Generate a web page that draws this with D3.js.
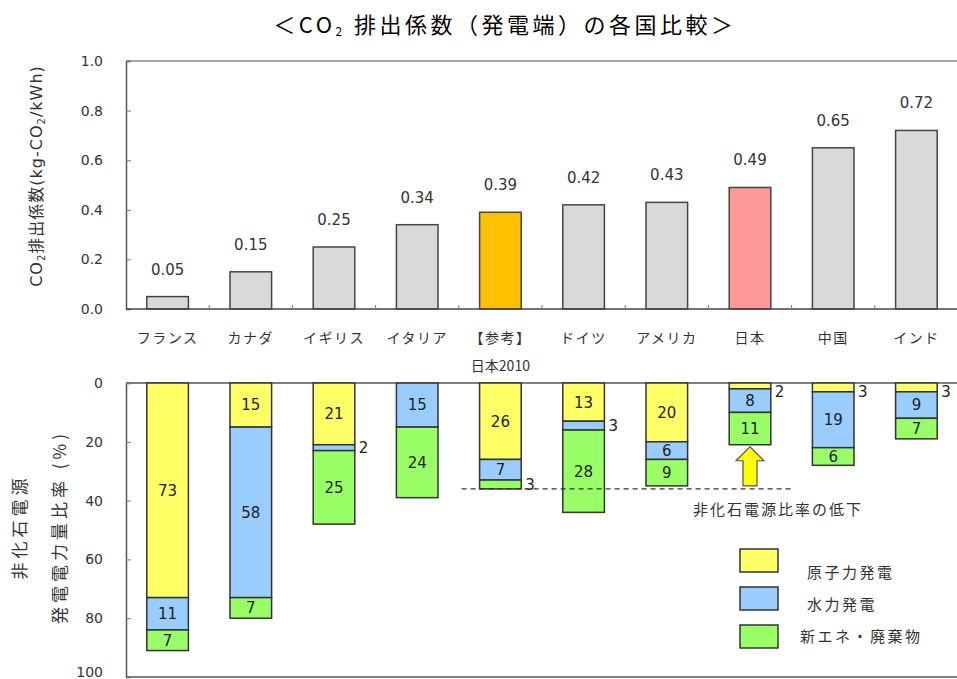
<!DOCTYPE html>
<html>
<head>
<meta charset="utf-8">
<script src="https://cdn.jsdelivr.net/npm/d3@7"></script>
<style>
  body { margin: 0; background: #fff; }
  svg { display: block; }
  text { fill: #333; }
</style>
</head>
<body>
<svg id="chart" width="957" height="679"></svg>
<script>
// data
const countries = ["フランス", "カナダ", "イギリス", "イタリア", "【参考】", "ドイツ", "アメリカ", "日本", "中国", "インド"];
const co2 = [0.05, 0.15, 0.25, 0.34, 0.39, 0.42, 0.43, 0.49, 0.65, 0.72];
const nuclear = [73, 15, 21, 0, 26, 13, 20, 2, 3, 3];
const hydro = [11, 58, 2, 15, 7, 3, 6, 8, 19, 9];
const renew = [7, 7, 25, 24, 3, 28, 9, 11, 6, 7];
const seriesNames = ["原子力発電", "水力発電", "新エネ・廃棄物"];
const seriesColors = ["#ffff66", "#99ccff", "#99ff66"];
const topTicks = [0, 0.2, 0.4, 0.6, 0.8, 1.0];
const bottomTicks = [0, 20, 40, 60, 80, 100];

const svg = d3.select("#chart");
const left = 126, right = 958;

let x = d3.scaleBand()
  .domain(countries)
  .range([left, right])
  .paddingInner(0.5)
  .paddingOuter(0.25);

let yTop = d3.scaleLinear().domain([0, 1]).range([309, 61]);
let yBot = d3.scaleLinear().domain([0, 100]).range([383, 677]);

// title
let title = svg.append("text")
  .attr("x", 505).attr("y", 33)
  .attr("text-anchor", "middle")
  .style("font-family", "'Noto Sans CJK JP'")
  .style("font-size", "22px")
  .style("letter-spacing", "3.5px")
  .style("fill", "#000");
title.append("tspan").text("＜CO");
title.append("tspan").text("2").style("font-size", "12px").attr("dy", 3);
title.append("tspan").text(" 排出係数（発電端）の各国比較＞").attr("dy", -3);

/* ---------- top chart ---------- */
let topG = svg.append("g");

topG.append("line")
  .attr("x1", left).attr("x2", right)
  .attr("y1", yTop(1)).attr("y2", yTop(1))
  .attr("stroke", "#888").attr("stroke-width", 1.5);

let yAxisTop = d3.axisLeft(yTop)
  .tickValues(topTicks)
  .tickFormat(d3.format(".1f"))
  .tickSize(-5)
  .tickPadding(23);

topG.append("g")
  .attr("transform", `translate(${left},0)`)
  .call(yAxisTop)
  .call(g => g.select(".domain").attr("stroke", "#555").attr("stroke-width", 1.5))
  .call(g => g.selectAll(".tick line").attr("stroke", "#777"))
  .call(g => g.selectAll(".tick text")
    .style("font-family", "'DejaVu Sans'").style("font-size", "14px").style("fill", "#333"));

let barColor = (d, i) => i == 4 ? "#ffc000" : (i == 7 ? "#ff9999" : "#d9d9d9");

topG.selectAll("rect.co2")
  .data(co2)
  .join("rect")
  .attr("class", "co2")
  .attr("x", (d, i) => x(countries[i]))
  .attr("width", x.bandwidth())
  .attr("y", d => yTop(d))
  .attr("height", d => yTop(0) - yTop(d))
  .attr("fill", barColor)
  .attr("stroke", "#444")
  .attr("stroke-width", 1.5);

topG.selectAll("text.co2")
  .data(co2)
  .join("text")
  .attr("class", "co2")
  .attr("x", (d, i) => x(countries[i]) + x.bandwidth() / 2)
  .attr("y", d => yTop(d) - 22)
  .attr("text-anchor", "middle")
  .style("font-family", "'DejaVu Sans'")
  .style("font-size", "15px")
  .text(d => d.toFixed(2));

// x axis, small ticks between bars pointing up
let xEdges = d3.range(1, countries.length).map(i => left + i * x.step());
topG.append("line")
  .attr("x1", left).attr("x2", right)
  .attr("y1", yTop(0)).attr("y2", yTop(0))
  .attr("stroke", "#444").attr("stroke-width", 1.5);
topG.selectAll("line.xt")
  .data(xEdges)
  .join("line")
  .attr("class", "xt")
  .attr("x1", d => d).attr("x2", d => d)
  .attr("y1", yTop(0)).attr("y2", yTop(0) - 4)
  .attr("stroke", "#777");

topG.selectAll("text.cat")
  .data(countries)
  .join("text")
  .attr("class", "cat")
  .attr("x", d => x(d) + x.bandwidth() / 2)
  .attr("y", 343)
  .attr("text-anchor", "middle")
  .style("font-family", "'Noto Sans CJK JP'")
  .style("font-size", "14px")
  .style("letter-spacing", "1.5px")
  .text(d => d);

svg.append("text")
  .attr("x", x("【参考】") + x.bandwidth() / 2)
  .attr("y", 371)
  .attr("text-anchor", "middle")
  .style("font-family", "'Noto Sans CJK JP'")
  .style("font-size", "14px")
  .text("日本2010");

let yl = svg.append("text")
  .attr("transform", "translate(42,176) rotate(-90)")
  .attr("text-anchor", "middle")
  .style("font-family", "'DejaVu Sans', 'Noto Sans CJK JP'")
  .style("font-size", "16px")
  .style("letter-spacing", "1px");
yl.append("tspan").text("CO");
yl.append("tspan").text("2").style("font-size", "10px").attr("dy", 3);
yl.append("tspan").text("排出係数(kg-CO").attr("dy", -3);
yl.append("tspan").text("2").style("font-size", "10px").attr("dy", 3);
yl.append("tspan").text("/kWh)").attr("dy", -3);

/* ---------- bottom chart ---------- */
let bot = svg.append("g");

let rows = countries.map((c, i) => ({ country: c, n: nuclear[i], h: hydro[i], r: renew[i] }));
let stack = d3.stack().keys(["n", "h", "r"])(rows);

bot.append("line")
  .attr("x1", left).attr("x2", right)
  .attr("y1", yBot(0)).attr("y2", yBot(0))
  .attr("stroke", "#555").attr("stroke-width", 1.5);
bot.append("line")
  .attr("x1", left).attr("x2", right)
  .attr("y1", yBot(100)).attr("y2", yBot(100))
  .attr("stroke", "#555").attr("stroke-width", 1.5);

let yAxisBot = d3.axisLeft(yBot)
  .tickValues(bottomTicks)
  .tickSize(-5)
  .tickPadding(23);

bot.append("g")
  .attr("transform", `translate(${left},0)`)
  .call(yAxisBot)
  .call(g => g.select(".domain").attr("stroke", "#555").attr("stroke-width", 1.5))
  .call(g => g.selectAll(".tick line").attr("stroke", "#777"))
  .call(g => g.selectAll(".tick text")
    .style("font-family", "'DejaVu Sans'").style("font-size", "14px").style("fill", "#333"))
  .call(g => g.selectAll(".tick text").filter(d => d == 100).attr("dy", "-0.05em"));

let layers = bot.selectAll("g.layer")
  .data(stack)
  .join("g")
  .attr("class", "layer")
  .attr("fill", (d, i) => seriesColors[i]);

layers.selectAll("rect")
  .data(d => d.filter(s => s[1] - s[0] > 0))
  .join("rect")
  .attr("x", d => x(d.data.country))
  .attr("width", x.bandwidth())
  .attr("y", d => yBot(d[0]))
  .attr("height", d => yBot(d[1]) - yBot(d[0]))
  .attr("stroke", "#333")
  .attr("stroke-width", 1.5);

layers.selectAll("text")
  .data(d => d.filter(s => s[1] - s[0] > 0))
  .join("text")
  .attr("x", d => (d[1] - d[0] < 5) ? x(d.data.country) + x.bandwidth() + 4 : x(d.data.country) + x.bandwidth() / 2)
  .attr("y", d => Math.max(yBot((d[0] + d[1]) / 2), yBot(3)))
  .attr("dy", "0.36em")
  .attr("text-anchor", d => (d[1] - d[0] < 5) ? "start" : "middle")
  .style("font-family", "'DejaVu Sans'")
  .style("font-size", "15px")
  .style("fill", "#222")
  .text(d => d[1] - d[0]);

// reference line at Japan 2010 total
let refTotal = nuclear[4] + hydro[4] + renew[4];
bot.append("line")
  .attr("x1", x("【参考】") - 18)
  .attr("x2", x("日本") + x.bandwidth() + 22)
  .attr("y1", yBot(refTotal)).attr("y2", yBot(refTotal))
  .attr("stroke", "#333")
  .attr("stroke-dasharray", "5,4")
  .attr("stroke-width", 1.2);

// arrow under Japan bar
let jpTotal = nuclear[7] + hydro[7] + renew[7];
let ax = x("日本") + x.bandwidth() / 2;
let aTop = yBot(jpTotal) + 2, aBot = yBot(refTotal) - 3;
bot.append("path")
  .attr("d", d3.line()([
    [ax, aTop], [ax + 14, aTop + 14], [ax + 7, aTop + 14], [ax + 7, aBot],
    [ax - 7, aBot], [ax - 7, aTop + 14], [ax - 14, aTop + 14]
  ]) + "Z")
  .attr("fill", "#ffff00")
  .attr("stroke", "#555")
  .attr("stroke-width", 1.2);

bot.append("text")
  .attr("x", 778).attr("y", 515)
  .attr("text-anchor", "middle")
  .style("font-family", "'Noto Sans CJK JP'")
  .style("font-size", "15px")
  .style("letter-spacing", "2px")
  .text("非化石電源比率の低下");

// legend
let legend = bot.selectAll("g.leg")
  .data(seriesNames)
  .join("g")
  .attr("class", "leg")
  .attr("transform", (d, i) => `translate(740,${549 + i * 38})`);
legend.append("rect")
  .attr("width", 38).attr("height", 23)
  .attr("fill", (d, i) => seriesColors[i])
  .attr("stroke", "#333").attr("stroke-width", 1.5);
legend.append("text")
  .attr("x", (d, i) => i == 2 ? 60 : 67)
  .attr("y", (d, i) => i == 0 ? 29 : (i == 1 ? 23 : 17))
  .style("font-family", "'Noto Sans CJK JP'")
  .style("font-size", "15px")
  .style("letter-spacing", "2.5px")
  .text(d => d);

// bottom y label, two lines
let yl2 = svg.append("g")
  .style("font-family", "'Noto Sans CJK JP'")
  .style("font-size", "17px")
  .style("letter-spacing", "4px");
yl2.append("text")
  .attr("transform", "translate(26,527) rotate(-90)")
  .attr("text-anchor", "middle")
  .text("非化石電源");
yl2.append("text")
  .attr("transform", "translate(66,527) rotate(-90)")
  .attr("text-anchor", "middle")
  .text("発電電力量比率 (%)");
</script>
</body>
</html>
